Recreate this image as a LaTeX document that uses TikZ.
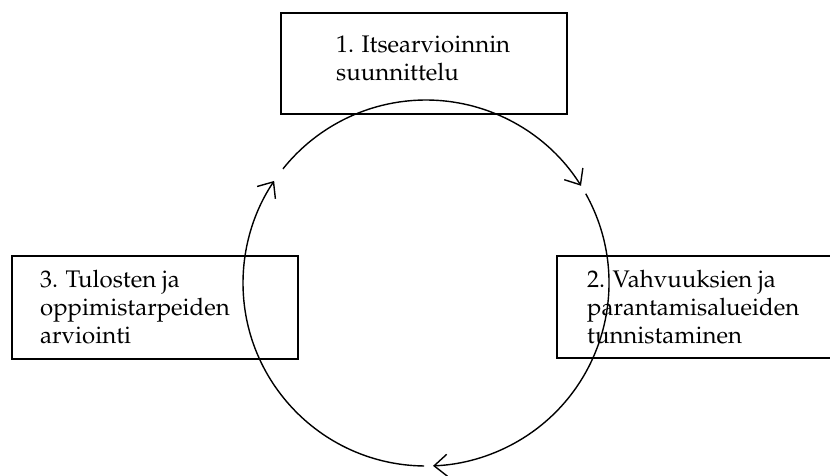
\documentclass[tikz,border=0pt]{standalone}
\usepackage[T1]{fontenc}
\usepackage{mathpazo}
\usetikzlibrary{arrows.meta}
\begin{document}
\begin{tikzpicture}[x=1pt,y=-1pt,
  box/.style={draw, line width=1.6pt, inner sep=0pt, anchor=north west},
  txt/.style={font=\fontsize{24}{28}\selectfont, align=left, inner sep=0pt, anchor=north west},
  cyc/.style={line width=1.4pt},
  tip/.style={-{Straight Barb[length=13pt,width=22pt]}}]
\useasboundingbox (0,0) rectangle (830,475);
% boxes
\node[box, minimum width=286pt, minimum height=101pt] (b1) at (280,12) {};
\node[box, minimum width=278pt, minimum height=102pt] (b2) at (556,255) {};
\node[box, minimum width=286pt, minimum height=103pt] (b3) at (11,255) {};
% texts
\node[txt] (t1) at ([xshift=56pt,yshift=-20.4pt]b1.north west) {\strut 1. Itsearvioinnin\\suunnittelu};
\node[txt] (t2) at ([xshift=31pt,yshift=-12.4pt]b2.north west) {\strut 2. Vahvuuksien ja\\parantamisalueiden\\tunnistaminen};
\node[txt] (t3) at ([xshift=29pt,yshift=-12.4pt]b3.north west) {\strut 3. Tulosten ja\\oppimistarpeiden\\arviointi};
% cycle
\coordinate (c) at (426,283);
\draw[cyc,tip] ([shift={(218.6:183)}]c) arc[start angle=218.6,end angle=327.9,radius=183];
\draw[cyc,tip] ([shift={(330.8:183)}]c) arc[start angle=330.8,end angle=447.8,radius=183];
\draw[cyc,tip] ([shift={(90.6:183)}]c) arc[start angle=90.6,end angle=213.9,radius=183];
\end{tikzpicture}
\end{document}
